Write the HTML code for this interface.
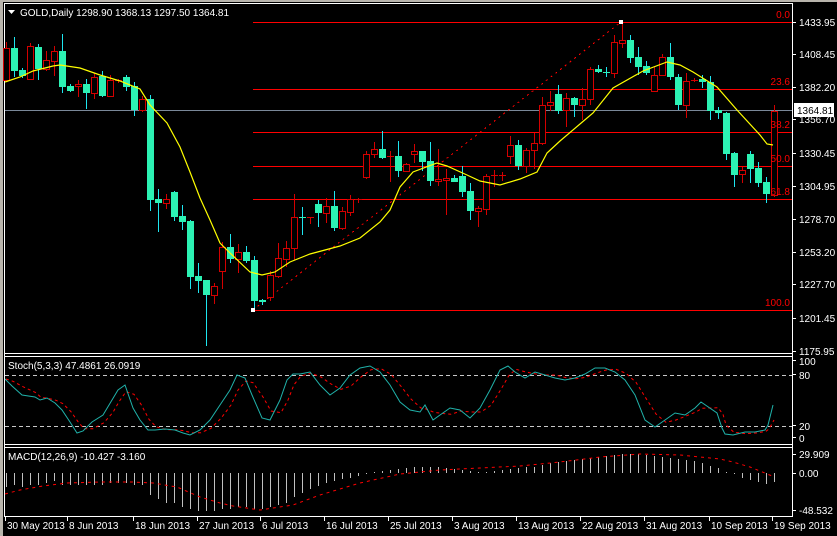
<!DOCTYPE html>
<html><head><meta charset="utf-8"><style>
html,body{margin:0;padding:0;background:#000;width:837px;height:536px;overflow:hidden}
svg{display:block}
text{font-family:"Liberation Sans",sans-serif;font-size:10px}
</style></head><body>
<svg id="s" width="837" height="536" xmlns="http://www.w3.org/2000/svg">
<rect x="0" y="0" width="837" height="536" fill="#000"/>
<rect x="0" y="0" width="3" height="536" fill="#b8b4ac"/>
<rect x="0" y="0" width="837" height="2" fill="#b8b4ac"/>
<g stroke="#fff" stroke-width="1" fill="none" shape-rendering="crispEdges">
<line x1="4.5" y1="3" x2="4.5" y2="517"/>
<line x1="4" y1="3.5" x2="792" y2="3.5"/>
<line x1="792.5" y1="3" x2="792.5" y2="517"/>
<line x1="4" y1="353.5" x2="792" y2="353.5"/>
<line x1="4" y1="356.5" x2="792" y2="356.5"/>
<line x1="4" y1="444.5" x2="792" y2="444.5"/>
<line x1="4" y1="447.5" x2="792" y2="447.5"/>
<line x1="4" y1="516.5" x2="792" y2="516.5"/>
</g>
<g id="g"></g>
<g fill="#fff">
<polygon points="8,10 15,10 11.5,14"/>
<text x="20" y="16">GOLD,Daily  1298.90 1368.13 1297.50 1364.81</text>
<text x="8" y="369">Stoch(5,3,3) 47.4861 26.0919</text>
<text x="8" y="460">MACD(12,26,9) -10.427 -3.160</text>
</g>
</svg>
<script>
var g=document.getElementById('g'),h='';
function L(x1,y1,x2,y2,c,d,w){h+='<line x1="'+x1+'" y1="'+y1+'" x2="'+x2+'" y2="'+y2+'" stroke="'+c+'" stroke-width="'+(w||1)+'"'+(d?' stroke-dasharray="'+d+'"':'')+' shape-rendering="crispEdges"/>';}
function T(x,y,t,c,a){h+='<text x="'+x+'" y="'+y+'" fill="'+c+'"'+(a?' text-anchor="'+a+'"':'')+'>'+t+'</text>';}
function P(pts,c,d,w){h+='<polyline points="'+pts.map(function(p){return p.join(',')}).join(' ')+'" fill="none" stroke="'+c+'" stroke-width="'+(w||1)+'"'+(d?' stroke-dasharray="'+d+'"':'')+'/>';}
L(5,110.5,792,110.5,'#7a8899');
var fib=[[22,'0.0'],[89,'23.6'],[132,'38.2'],[166,'50.0'],[199,'61.8'],[310,'100.0']];
fib.forEach(function(f){L(253,f[0]+.5,792,f[0]+.5,'#ff0000');});
L(253,310,621,22,'#ff0000','2,4');
[[22,'1433.95'],[54,'1408.45'],[87,'1382.20'],[119,'1356.70'],[153,'1330.45'],[186,'1304.95'],[219,'1278.70'],[252,'1253.20'],[284,'1227.70'],[318,'1201.45'],[351,'1175.95']].forEach(function(a){L(792,a[0]+.5,796,a[0]+.5,'#fff');T(799,a[0]+4,a[1],'#fff');});
var c=[
['r',48,80,42,80],['g',48,71,37,77],['g',70,76,68,78],['r',46,79,43,80],['g',47,69,44,80],['r',60,69,51,71],['r',51,61,46,76],['g',51,87,34,93],['g',86,91,84,92],['r',84,86,80,97],
['g',84,93,79,109],['r',77,93,73,99],['g',76,96,71,97],['r',80,96,75,97],['r',80,81,79,83],['g',77,87,75,91],['g',86,110,82,116],['r',99,110,96,112],['g',99,200,95,211],['g',199,203,189,232],
['r',199,203,194,209],['g',192,217,191,221],['g',216,222,205,230],['g',221,277,220,289],['g',276,281,263,293],['g',280,295,280,346],['r',286,295,283,304],['r',247,271,242,289],['g',247,259,234,263],['r',252,259,244,273],
['g',252,261,246,263],['g',260,301,256,310],['g',300,302,299,305],['r',275,297,271,301],['r',258,276,243,278],['r',248,259,241,267],['r',217,248,194,260],['g',217,218,207,235],['r',217,218,217,224],['g',204,213,200,227],
['r',206,213,198,223],['g',206,228,191,231],['r',211,228,207,230],['r',199,212,195,216],['r',199,199,198,203],['r',154,177,151,179],['r',149,154,142,158],['g',149,158,131,159],['r',156,157,151,182],['g',156,171,141,177],
['r',164,171,163,172],['r',151,154,144,163],['g',151,162,151,171],['g',161,181,142,186],['r',179,181,149,186],['r',178,180,169,215],['g',178,182,175,182],['g',176,192,166,197],['g',191,211,183,220],['r',208,211,206,227],
['r',176,209,174,215],['r',175,176,170,187],['r',175,175,172,181],['r',145,156,136,164],['g',145,166,140,170],['r',150,166,148,173],['r',143,150,133,169],['r',105,143,97,145],['r',102,105,91,111],['g',94,111,85,114],
['r',98,110,93,127],['g',98,105,97,117],['r',99,105,88,120],['r',69,99,67,105],['g',69,72,65,73],['g',72,73,67,77],['r',42,73,35,78],['r',40,43,21,48],['g',40,58,35,63],['g',57,67,47,75],
['g',66,73,61,75],['r',75,91,67,91],['r',57,75,54,75],['g',57,77,43,80],['g',77,105,74,110],['r',81,105,73,118],['r',80,80,78,82],['g',79,82,75,88],['g',82,111,76,120],['g',110,113,107,119],
['g',113,154,112,160],['g',153,175,152,187],['r',170,174,167,183],['g',154,169,151,183],['g',168,183,162,187],['g',182,194,177,203],['r',111,195,105,197]];
c.forEach(function(k,i){var x=6+8*i,xs=x+.5;
 if(k[0]=='g'){L(xs,k[3],xs,k[4],'#1ee6f0');var hh=Math.max(k[2]-k[1],1);h+='<rect x="'+(x-3)+'" y="'+k[1]+'" width="7" height="'+hh+'" fill="#2cf2b4"/>';}
 else{L(xs,k[3],xs,k[4],'#d40000');if(k[2]-k[1]<2){L(x-3,k[1]+.5,x+4,k[1]+.5,'#d40000');}else h+='<rect x="'+(x-2.5)+'" y="'+(k[1]+.5)+'" width="6" height="'+(k[2]-k[1])+'" fill="#000" stroke="#d40000" stroke-width="1" shape-rendering="crispEdges"/>';}
});
P([[5,82],[20,77],[33,71],[53,66],[60,65],[80,68],[100,75],[120,81],[140,89],[150,105],[167,123],[180,147],[190,172],[200,198],[210,220],[220,243],[230,253],[250,272],[262,275],[275,272],[290,262],[310,254],[340,246],[360,238],[380,222],[390,210],[400,187],[413,172],[437,163],[447,166],[467,175],[480,181],[500,185],[520,179],[537,172],[547,153],[560,141],[580,124],[593,113],[613,88],[643,71],[667,62],[680,65],[693,72],[717,87],[737,110],[760,135],[767,144],[773,145]],'#ffff00',null,1.2);
fib.forEach(function(f){T(790,f[0]-4,f[1],'#ff0000','end');});
h+='<rect x="251" y="308" width="4" height="4" fill="#fff"/><rect x="619" y="20" width="4" height="4" fill="#fff"/>';
h+='<rect x="794" y="103" width="40" height="14" fill="#fff"/>';T(797,114,'1364.81','#000');
L(5,375.5,792,375.5,'#c8c8c8','4,3');L(5,426.5,792,426.5,'#c8c8c8','4,3');
[[364,'100'],[378,'80'],[429,'20'],[441,'0']].forEach(function(a){L(792,a[0]-3.5,796,a[0]-3.5,'#fff');T(799,a[0]+1,a[1],'#fff');});
var st=[[5,379],[12,386],[22,395],[35,397],[40,400],[47,398],[55,403],[62,410],[70,422],[77,433],[83,431],[92,422],[103,415],[112,400],[118,390],[125,385],[133,408],[140,420],[148,430],[155,430],[165,429],[175,430],[183,433],[190,435],[200,430],[210,420],[220,405],[230,390],[237,375],[245,378],[252,395],[262,418],[270,420],[280,400],[287,380],[293,374],[300,374],[310,372],[320,385],[330,395],[340,388],[350,375],[360,368],[370,366],[380,372],[390,385],[400,402],[410,410],[420,412],[425,405],[433,420],[440,415],[450,408],[460,410],[470,418],[480,408],[490,390],[500,370],[508,366],[515,372],[525,378],[535,372],[545,375],[555,378],[565,380],[575,378],[585,374],[595,368],[605,368],[615,372],[625,380],[635,395],[645,420],[655,427],[665,420],[675,413],[685,415],[695,408],[701,402],[717,413],[722,428],[725,434],[733,435],[745,432],[755,432],[765,430],[768,425],[773,405]];
var sg=st.map(function(p,i){var q=st[Math.max(0,i-1)],r=st[Math.max(0,i-2)];return [p[0]+1,((p[1]+q[1]+r[1])/3).toFixed(1)];});
P(sg,'#ff0000','3,3');P(st,'#20b2aa');
[[454,'29.909'],[473,'0.00'],[510,'-48.532']].forEach(function(a){L(792,a[0]+.5,796,a[0]+.5,'#fff');T(799,a[0]+4,a[1],'#fff');});
var hv=[14,12,14,12,12,10,8,12,12,12,12,12,12,10,10,10,12,12,22,26,30,30,34,36,38,38,38,36,36,34,34,36,36,34,32,30,24,20,16,13,10,8,6,5,3,1,-1,-2,-3,-4,-5,-6,-6,-6,-6,-5,-4,-3,-2,-1,-1,-2,-3,-4,-5,-6,-6,-8,-10,-11,-12,-13,-14,-15,-16,-17,-18,-19,-19,-19,-18,-17,-16,-15,-14,-13,-12,-10,-7,-5,-1,1,5,7,9,11,9];
hv.forEach(function(v,i){var x=6+8*i+.5;if(Math.abs(v)<1)v=v<0?-1:1;L(x,473,x,473+v,'#c0c0c0');});
P([[5,494],[20,490],[43,486],[67,483],[100,482],[133,482],[153,483],[177,487],[200,497],[220,503],[233,506],[260,510],[293,505],[320,495],[360,483],[400,474],[440,470],[480,468],[520,466],[560,462],[600,457],[640,454],[680,455],[700,457],[720,459],[733,462],[750,467],[760,471],[772,476]],'#ff0000','3,4');
[[5,'30 May 2013'],[67,'8 Jun 2013'],[133,'18 Jun 2013'],[197,'27 Jun 2013'],[260,'6 Jul 2013'],[324,'16 Jul 2013'],[388,'25 Jul 2013'],[452,'3 Aug 2013'],[516,'13 Aug 2013'],[580,'22 Aug 2013'],[644,'31 Aug 2013'],[709,'10 Sep 2013'],[772,'19 Sep 2013']].forEach(function(a){L(a[0]+.5,517,a[0]+.5,521,'#fff');T(a[0]+2,529,a[1],'#fff');});
g.innerHTML=h;
</script>
</body></html>
